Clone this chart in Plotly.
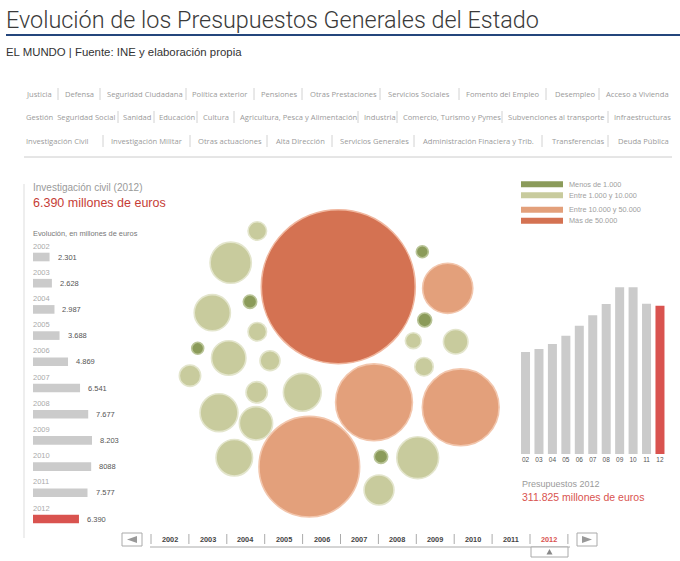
import plotly.graph_objects as go

W, H = 680, 561

# ---------------- data ----------------
years = ["2002", "2003", "2004", "2005", "2006", "2007", "2008", "2009", "2010", "2011", "2012"]
year_short = ["02", "03", "04", "05", "06", "07", "08", "09", "10", "11", "12"]

# Investigación civil, millones de euros
inv_civil_values = [2301, 2628, 2987, 3688, 4869, 6541, 7677, 8203, 8088, 7577, 6390]
inv_civil_labels = ["2.301", "2.628", "2.987", "3.688", "4.869", "6.541", "7.677",
                    "8.203", "8088", "7.577", "6.390"]

# Presupuestos totales, millones de euros
total_budget = [214500, 220800, 231300, 248700, 269800, 291600, 315400,
                350500, 350500, 316000, 311825]

# Bubbles: policy areas 2012 (millones de euros)
bubble_names = ["Pensiones", "Otras Prestaciones", "Deuda Pública", "Desempleo", "Transferencias",
                "Justicia", "Seguridad Ciudadana", "Investigación Civil", "Política exterior",
                "Fomento del Empleo", "Servicios Sociales", "Industria", "Educación",
                "Infraestructuras", "Defensa", "Agricultura, Pesca y Alimentación",
                "Servicios Generales", "Administración Finaciera y Trib.", "Sanidad",
                "Otras actuaciones", "Subvenciones al transporte", "Investigación Militar",
                "Acceso a Vivienda", "Cultura", "Comercio, Turismo y Pymes", "Alta Dirección",
                "Gestión Seguridad Social"]
bubble_values = [115825, 12300, 28848, 28805, 49500,
                 1680, 8310, 6390, 1680,
                 5800, 1940, 2220, 2220,
                 7000, 7000, 5410,
                 6500, 8550, 4370,
                 2940, 1240, 1680,
                 700, 870, 950, 700,
                 870]

# Menu (category links), three rows
menu_row1 = ["Justicia", "Defensa", "Seguridad Ciudadana", "Política exterior", "Pensiones",
             "Otras Prestaciones", "Servicios Sociales", "Fomento del Empleo", "Desempleo",
             "Acceso a Vivienda"]
menu_row2 = ["Gestión\u00a0 Seguridad Social", "Sanidad", "Educación", "Cultura",
             "Agricultura, Pesca y Alimentación", "Industria", "Comercio, Turismo y Pymes",
             "Subvenciones al transporte", "Infraestructuras"]
menu_row3 = ["Investigación Civil", "Investigación Militar", "Otras actuaciones", "Alta Dirección",
             "Servicios Generales", "Administración Finaciera y Trib.", "Transferencias",
             "Deuda Pública"]

legend_labels = ["Menos de 1.000", "Entre 1.000 y 10.000", "Entre 10.000 y 50.000", "Más de 50.000"]

# ---------------- layout positions (pixels) ----------------
bubble_cx = [338.3, 447.7, 374.0, 460.7, 309.3,
             257.3, 230.7, 212.3, 257.3,
             228.7, 270.0, 190.0, 256.7,
             302.3, 219.0, 256.0,
             234.3, 417.7, 379.0,
             455.7, 413.3, 424.0,
             422.3, 250.0, 424.7, 197.7,
             381.0]
bubble_cy = [286.7, 288.3, 402.3, 407.3, 466.7,
             231.0, 262.7, 312.7, 331.7,
             358.0, 360.7, 375.7, 392.3,
             392.3, 412.7, 423.3,
             457.7, 457.7, 490.0,
             341.7, 340.7, 366.7,
             251.7, 301.7, 320.0, 348.3,
             456.7]

menu_row1_x = [24, 63, 105, 190, 259, 308, 386, 464, 553, 604]
menu_row1_sep = [58, 100, 186, 254, 302, 380, 459, 546, 599]
menu_row2_x = [24, 121, 157, 201, 238, 362, 401, 506, 612]
menu_row2_sep = [118, 154, 197, 234, 358, 397, 502, 608]
menu_row3_x = [24, 109, 196, 274, 338, 421, 550, 616]
menu_row3_sep = [103, 190, 267, 332, 414, 542, 608]
menu_y = [94, 117, 141]

# ---------------- styles ----------------
C_DKGREEN = "#8b9b5a"
C_LTGREEN = "#c8cb9d"
C_ORANGE = "#e3a07b"
C_RED = "#d47252"
EDGE = {C_DKGREEN: "#b9c497", C_LTGREEN: "#e3e5cc", C_ORANGE: "#f2c6ad", C_RED: "#f0b79f"}
BAR_GRAY = "#cbcbcb"
BAR_RED = "#d9534f"
SANS = "Liberation Sans, Arial, sans-serif"
MENU_FONT = "Open Sans, Noto Sans, sans-serif"


def bubble_color(v):
    if v < 1000:
        return C_DKGREEN
    if v < 10000:
        return C_LTGREEN
    if v < 50000:
        return C_ORANGE
    return C_RED


fig = go.Figure()

# bubbles on the pixel canvas axis (x / y)
b_colors = [bubble_color(v) for v in bubble_values]
SIZEREF = 2 * 115825 / (154 ** 2)
fig.add_trace(go.Scatter(
    x=bubble_cx, y=bubble_cy, mode="markers",
    text=bubble_names, customdata=bubble_values,
    hovertemplate="%{text}<br>%{customdata:,} M€<extra></extra>",
    marker=dict(size=bubble_values, sizemode="area", sizeref=SIZEREF, color=b_colors,
                opacity=1, line=dict(color=[EDGE[c] for c in b_colors], width=1.6)),
    xaxis="x", yaxis="y", showlegend=False, cliponaxis=False))

# left horizontal bars (one row per year, top to bottom)
year_idx = list(range(len(years)))
fig.add_trace(go.Bar(
    x=inv_civil_values, y=year_idx, orientation="h", width=0.33,
    customdata=years,
    marker=dict(color=[BAR_GRAY] * (len(years) - 1) + [BAR_RED], line=dict(width=0)),
    xaxis="x2", yaxis="y2", showlegend=False,
    hovertemplate="%{customdata}: %{x:,} M€<extra></extra>"))

# right vertical bars
fig.add_trace(go.Bar(
    x=year_short, y=total_budget, width=0.67,
    marker=dict(color=[BAR_GRAY] * (len(years) - 1) + [BAR_RED], line=dict(width=0)),
    xaxis="x3", yaxis="y3", showlegend=False,
    hovertemplate="%{x}: %{y:,} M€<extra></extra>"))


def px(x):
    return x / W


def py(y):
    return 1 - y / H


ann = []
shapes = []


def text(x, y, s, size, color, family=SANS, xanchor="left", yanchor="middle", **kw):
    if xanchor == "left":
        x -= 2
    ann.append(dict(x=x, y=y, xref="x", yref="y", text=s, showarrow=False,
                    xanchor=xanchor, yanchor=yanchor,
                    font=dict(size=size, color=color, family=family, **kw)))


def line(x0, y0, x1, y1, color, width=1):
    shapes.append(dict(type="line", xref="x", yref="y", x0=x0, y0=y0, x1=x1, y1=y1,
                       line=dict(color=color, width=width)))


def rect(x0, y0, x1, y1, fill, linecolor=None, width=0):
    shapes.append(dict(type="rect", xref="x", yref="y", x0=x0, y0=y0, x1=x1, y1=y1,
                       fillcolor=fill, line=dict(color=linecolor or fill, width=width)))


# title & subtitle
text(6, 20, "Evolución de los Presupuestos Generales del Estado", 23.4, "#3a3a3a",
     family="Roboto, Liberation Sans, sans-serif", weight=300)
line(6, 35, 680, 35, "#24467c", 2)
text(6, 52, "EL MUNDO | Fuente: INE y elaboración propia", 11.4, "#333333",
     family="Liberation Sans, Arial, sans-serif")

# menu rows
for labels, xs, seps, yy in [(menu_row1, menu_row1_x, menu_row1_sep, menu_y[0]),
                             (menu_row2, menu_row2_x, menu_row2_sep, menu_y[1]),
                             (menu_row3, menu_row3_x, menu_row3_sep, menu_y[2])]:
    for lab, x in zip(labels, xs):
        text(x + 2, yy, lab, 7.6, "#9a9a9a", family=MENU_FONT)
    for s in seps:
        line(s, yy - 6, s, yy + 6, "#d2d2d2", 1)
line(24, 157, 672, 157, "#cccccc", 1)

# left panel
line(24, 184, 24, 538, "#dddddd", 1)
text(33, 187, "Investigación civil (2012)", 10, "#9a9a9a")
text(33, 203, "6.390 millones de euros", 12.5, "#c63d36")
text(33, 233, "Evolución, en millones de euros", 7.4, "#777777")
for i, (yr, v, lab) in enumerate(zip(years, inv_civil_values, inv_civil_labels)):
    ann.append(dict(x=px(31), xref="paper", y=i, yref="y2", yshift=11, text=yr,
                    showarrow=False, xanchor="left", yanchor="middle",
                    font=dict(size=7.5, color="#aaaaaa", family=SANS)))
    ann.append(dict(x=v, xref="x2", y=i, yref="y2", xshift=6, text=lab,
                    showarrow=False, xanchor="left", yanchor="middle",
                    font=dict(size=7.5, color="#555555", family=SANS)))

# legend (top right)
leg_y = [184.3, 195.3, 209.7, 220.7]
for lab, c, yy in zip(legend_labels, [C_DKGREEN, C_LTGREEN, C_ORANGE, C_RED], leg_y):
    rect(521, yy - 3, 563, yy + 3, c)
    text(569, yy, lab, 7.3, "#a0a0a0")

# right panel texts
text(522, 484, "Presupuestos 2012", 9, "#9a9a9a")
text(522, 497, "311.825 millones de euros", 10.5, "#d9534f")

# timeline
step = 37.9
t0 = 151
for i, yr in enumerate(years):
    cx = t0 + step * (i + 0.5)
    text(cx, 539, yr, 7.3, "#d9534f" if yr == "2012" else "#444444",
         xanchor="center", weight="bold")
for i in range(len(years) + 1):
    x = t0 + step * i
    line(x, 534, x, 544, "#aaaaaa", 1)
line(150, 547, 570, 547, "#aaaaaa", 1)
# buttons
rect(122, 533, 142, 546, "white", "#aaaaaa", 1)
shapes.append(dict(type="path", xref="x", yref="y", path="M 127 539.5 L 137 536 L 137 543 Z",
                   fillcolor="#999999", line=dict(width=0)))
rect(577, 533, 597, 546, "white", "#aaaaaa", 1)
shapes.append(dict(type="path", xref="x", yref="y", path="M 592 539.5 L 582 536 L 582 543 Z",
                   fillcolor="#999999", line=dict(width=0)))
# selector under 2012
rect(531, 547, 568, 557, "white", "#aaaaaa", 1)
shapes.append(dict(type="path", xref="x", yref="y", path="M 549.5 549 L 546.5 554.5 L 552.5 554.5 Z",
                   fillcolor="#888888", line=dict(width=0)))

# axes
left_w_px = 100
left_scale = 59.0 / 8203  # px per M€
right_scale = 148.3 / 311825  # px per M€
fig.update_layout(
    width=W, height=H, margin=dict(l=0, r=0, t=0, b=0),
    paper_bgcolor="white", plot_bgcolor="rgba(0,0,0,0)",
    xaxis=dict(domain=[0, 1], range=[0, W], visible=False, fixedrange=True),
    yaxis=dict(domain=[0, 1], range=[H, 0], visible=False, fixedrange=True),
    xaxis2=dict(domain=[px(33), px(33 + left_w_px)], range=[0, left_w_px / left_scale],
                visible=False, anchor="y2", fixedrange=True),
    yaxis2=dict(domain=[py(257 + 262.0 + 13.1), py(257 - 13.1)],
                range=[10.5, -0.5], visible=False, anchor="x2", fixedrange=True),
    xaxis3=dict(domain=[px(518.8), px(666.7)], type="category", range=[-0.5, 10.5],
                anchor="y3", showgrid=False, showline=False, ticks="", zeroline=False,
                tickfont=dict(size=6.5, color="#555555", family=SANS), fixedrange=True),
    yaxis3=dict(domain=[py(454), py(270)], range=[0, 184 / right_scale], visible=False,
                anchor="x3", fixedrange=True),
    annotations=ann, shapes=shapes, showlegend=False,
    hovermode="closest",
)

fig.write_html("out.html", config={"displayModeBar": False},
               post_script="document.body.style.margin='0';")
